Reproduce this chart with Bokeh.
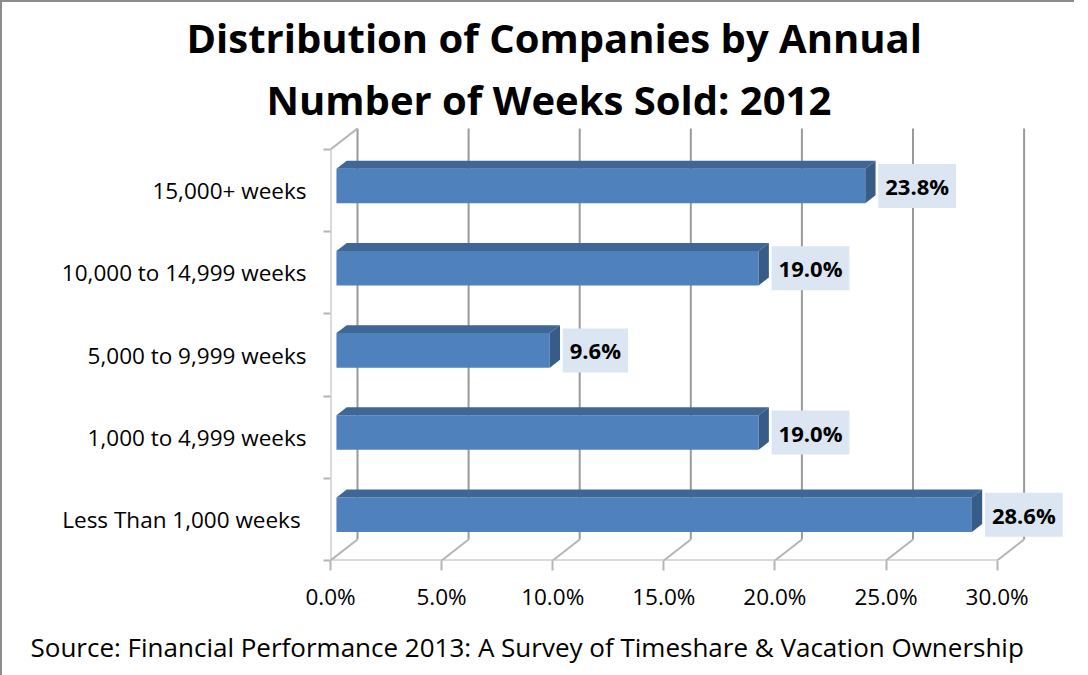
from bokeh.plotting import figure
from bokeh.models import Range1d, FixedTicker, Title, ColumnDataSource
from bokeh.embed import file_html
from bokeh.resources import INLINE
from bokeh.core.properties import value

# ---------------- data ----------------
categories = [
    "Less Than  1,000 weeks",
    "1,000 to 4,999 weeks",
    "5,000 to 9,999 weeks",
    "10,000 to 14,999 weeks",
    "15,000+ weeks",
]
values = [28.6, 19.0, 9.6, 19.0, 23.8]
value_labels = ["28.6%", "19.0%", "9.6%", "19.0%", "23.8%"]
x_ticks = [0, 5, 10, 15, 20, 25, 30]
x_tick_labels = ["0.0%", "5.0%", "10.0%", "15.0%", "20.0%", "25.0%", "30.0%"]
title_line1 = "Distribution of Companies by Annual"
title_line2 = "Number of Weeks Sold: 2012"
source_note = "Source:  Financial Performance 2013: A Survey of Timeshare & Vacation Ownership"

# ---------------- layout constants ----------------
LEFT, TOP, BOTTOM, RIGHT = 328, 115, 104, 0
FRAME_W, FRAME_H = 744, 434
PX_PER_PCT = 22.22
PX_PER_CAT = 82.2
n = len(categories)
x_end = FRAME_W / PX_PER_PCT
y_end = FRAME_H / PX_PER_CAT
DX = 27 / PX_PER_PCT          # depth offset (x, data units)
DY = 21 / PX_PER_CAT          # depth offset (y, data units)
F0, F1 = 0.22, 0.60           # bar depth start/end fraction
BAR_LO, BAR_HI = 0.29, 0.71   # bar thickness within band

FONT = "Open Sans"
GRID = "#9a9a9a"
WALL = "#b5b5b5"
FRONT = "#4f81bd"
TOPC = "#3f6796"
SIDE = "#375c88"

p = figure(frame_width=FRAME_W, frame_height=FRAME_H,
           x_range=Range1d(0, x_end), y_range=Range1d(0, y_end),
           output_backend="svg", toolbar_location=None,
           min_border_left=LEFT, min_border_right=RIGHT, min_border_top=TOP,
           min_border_bottom=BOTTOM)
p.styles = {"border-left": "2px solid #8c8c8c", "border-top": "2px solid #8c8c8c"}
p.outline_line_color = None
p.xgrid.visible = False
p.ygrid.visible = False
p.background_fill_color = "white"

# titles
p.title.text = title_line1
p.title.align = "left"
p.title.offset = -144
p.title.text_font = FONT
p.title.text_font_size = "40px"
p.title.text_font_style = "bold"
p.title.text_color = "black"
t2 = Title(text=title_line2, align="left", offset=-64, text_font=FONT,
           text_font_size="40px", text_font_style="bold", text_color="black",
           standoff=0)
p.add_layout(t2, "above")
src = Title(text=source_note, align="left", text_font=FONT, text_font_size="26px",
            text_font_style="normal", text_color="black", offset=-300, standoff=25)
p.add_layout(src, "below")

# ---------------- walls / grid ----------------
p.multi_line(xs=[[t + DX, t + DX] for t in x_ticks], ys=[[DY, n + DY] for _ in x_ticks],
             line_color=GRID, line_width=2)
p.multi_line(xs=[[t, t + DX] for t in x_ticks], ys=[[0, DY] for _ in x_ticks],
             line_color=WALL, line_width=2)
p.line(x=[x_ticks[0], x_ticks[-1]], y=[0, 0], line_color=WALL, line_width=2)
p.line(x=[0, 0], y=[0, n], line_color=WALL, line_width=2)
p.line(x=[0, DX], y=[n, n + DY], line_color=WALL, line_width=2)

# ---------------- bars ----------------
idx = list(range(n))
front = ColumnDataSource(dict(
    left=[F0 * DX] * n,
    right=[v + F0 * DX for v in values],
    bottom=[i + BAR_LO + F0 * DY for i in idx],
    top=[i + BAR_HI + F0 * DY for i in idx],
))
p.quad(left="left", right="right", bottom="bottom", top="top", source=front,
       fill_color=FRONT, line_color=None)

top_xs, top_ys, side_xs, side_ys = [], [], [], []
for i, v in zip(idx, values):
    t0 = i + BAR_HI + F0 * DY
    t1 = i + BAR_HI + F1 * DY
    b0 = i + BAR_LO + F0 * DY
    b1 = i + BAR_LO + F1 * DY
    top_xs.append([F0 * DX, v + F0 * DX, v + F1 * DX, F1 * DX])
    top_ys.append([t0, t0, t1, t1])
    side_xs.append([v + F0 * DX, v + F0 * DX, v + F1 * DX, v + F1 * DX])
    side_ys.append([b0, t0, t1, b1])
p.patches(xs=top_xs, ys=top_ys, fill_color=TOPC, line_color=None)
p.patches(xs=side_xs, ys=side_ys, fill_color=SIDE, line_color=None)

# ---------------- value labels ----------------
lab = ColumnDataSource(dict(
    x=[v + F0 * DX for v in values],
    y=[i + 0.5 + F0 * DY for i in idx],
    text=value_labels,
))
p.text(x="x", y="y", text="text", source=lab, x_offset=13, text_align="left",
       text_baseline="middle", text_font=value(FONT), text_font_size="22px",
       text_font_style="bold", text_color="black",
       background_fill_color="#dce6f2", padding=7)

# ---------------- axes ----------------
xa = p.xaxis[0]
xa.ticker = FixedTicker(ticks=x_ticks)
xa.major_label_overrides = {t: l for t, l in zip(x_ticks, x_tick_labels)}
xa.axis_line_color = None
xa.major_tick_out = 10
xa.major_tick_in = 0
xa.minor_tick_out = 0
xa.minor_tick_in = 0
xa.major_tick_line_color = WALL
xa.major_tick_line_width = 2
xa.major_label_standoff = 10
xa.major_label_text_font = FONT
xa.major_label_text_font_size = "22.5px"
xa.major_label_text_color = "black"

ya = p.yaxis[0]
ya.ticker = FixedTicker(ticks=[i + 0.5 for i in idx], minor_ticks=list(range(n + 1)))
ya.major_label_overrides = {i + 0.5: c for i, c in zip(idx, categories)}
ya.axis_line_color = None
ya.major_tick_out = 0
ya.major_tick_in = 0
ya.minor_tick_out = 7
ya.minor_tick_in = 0
ya.minor_tick_line_color = WALL
ya.minor_tick_line_width = 2
ya.major_label_standoff = 17
ya.major_label_text_font = FONT
ya.major_label_text_font_size = "22.5px"
ya.major_label_text_color = "black"

open("out.html", "w").write(file_html(p, INLINE))
